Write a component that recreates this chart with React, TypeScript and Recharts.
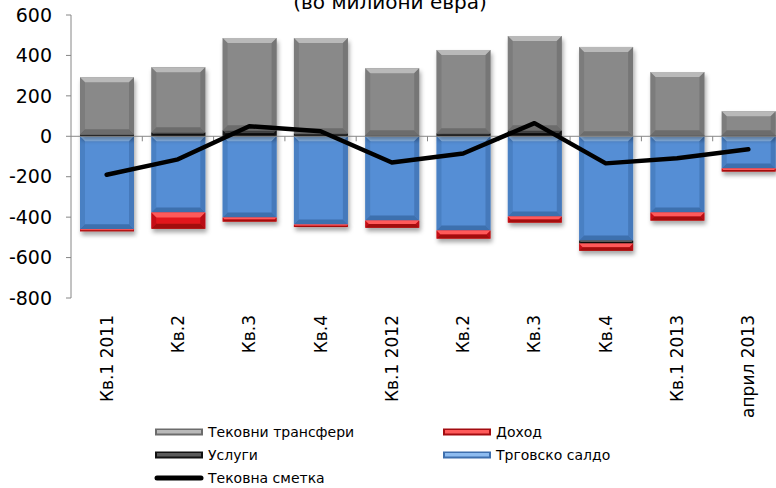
import React from 'react'
import { ComposedChart, Bar, Line, XAxis, YAxis, ReferenceLine } from 'recharts'

// Платен биланс по квартали, во милиони евра
const CATEGORIES = [
  'Кв.1 2011', 'Кв.2', 'Кв.3', 'Кв.4', 'Кв.1 2012',
  'Кв.2', 'Кв.3', 'Кв.4', 'Кв.1 2013', 'април 2013',
]
const TRADE = [-460, -377, -402, -437, -417, -466, -397, -516, -377, -159]
const SERVICES = [10, 20, 30, 15, 5, 15, 30, -15, 5, 5]
const INCOME = [-10, -80, -20, -12, -35, -40, -30, -35, -40, -15]
const TRANSFERS = [282, 322, 456, 471, 332, 412, 466, 442, 313, 119]
const CURRENT = [-190, -114, 50, 25, -130, -85, 65, -134, -109, -64]
const Y_TICKS = [-800, -600, -400, -200, 0, 200, 400, 600]

const FONT = '"DejaVu Sans", Verdana, sans-serif'

const data = CATEGORIES.map((name, i) => ({
  idx: i,
  name,
  trade: TRADE[i],
  services: SERVICES[i],
  income: INCOME[i],
  transfers: TRANSFERS[i],
  current: CURRENT[i],
}))

type Tone = { base: string; light: string; dark: string }

const GREY: Tone = { base: '#898989', light: '#b9b9b9', dark: '#6c6c6c' }
const BLUE: Tone = { base: '#558ed5', light: '#8ebcf0', dark: '#3e6fae' }
const RED: Tone = { base: '#e3161d', light: '#ff5a5a', dark: '#a30c10' }
const BLACK: Tone = { base: '#2a2a2a', light: '#5a5a5a', dark: '#111111' }

const SERIES = [
  { key: 'trade', label: 'Трговско салдо', tone: BLUE },
  { key: 'services', label: 'Услуги', tone: BLACK },
  { key: 'income', label: 'Доход', tone: RED },
  { key: 'transfers', label: 'Тековни трансфери', tone: GREY },
]

function bevelShape(tone: Tone) {
  return (props: any) => {
    const { x, y, width, height } = props
    if (!width || !height) return <g />
    const top = Math.min(y, y + height)
    const h = Math.abs(height)
    const w = width
    const b = Math.min(5, h / 2, w / 2)
    const bot = top + h
    const r = x + w
    return (
      <g filter="url(#barShadow)">
        <rect x={x} y={top} width={w} height={h} fill={tone.base} />
        <polygon points={`${x},${top} ${r},${top} ${r - b},${top + b} ${x + b},${top + b}`} fill={tone.light} />
        <polygon points={`${x},${bot} ${r},${bot} ${r - b},${bot - b} ${x + b},${bot - b}`} fill={tone.dark} />
        <polygon points={`${x},${top} ${x + b},${top + b} ${x + b},${bot - b} ${x},${bot}`} fill={tone.dark} opacity={0.45} />
        <polygon points={`${r},${top} ${r - b},${top + b} ${r - b},${bot - b} ${r},${bot}`} fill={tone.dark} opacity={0.65} />
      </g>
    )
  }
}

function XTick(props: any) {
  const { x, y, payload } = props
  const ty = y + 9
  return (
    <text
      x={x}
      y={ty}
      transform={`rotate(-90 ${x} ${ty})`}
      textAnchor="end"
      dominantBaseline="central"
      fontSize={17}
      fontFamily={FONT}
      fill="#000"
    >
      {CATEGORIES[payload.value]}
    </text>
  )
}

// tick marks along the zero line, between categories
function ZeroTicks(props: any) {
  const vb = props.viewBox
  if (!vb) return null
  const n = CATEGORIES.length
  return (
    <g>
      {Array.from({ length: n }).map((_, i) => (
        <line
          key={i}
          x1={vb.x + ((i + 1) * vb.width) / n}
          x2={vb.x + ((i + 1) * vb.width) / n}
          y1={vb.y}
          y2={vb.y + 5}
          stroke="#868686"
          strokeWidth={1}
        />
      ))}
    </g>
  )
}

function Swatch({ tone, line }: { tone?: Tone; line?: boolean }) {
  if (line) {
    return (
      <svg width={50} height={10} style={{ display: 'block' }}>
        <line x1={3} y1={5} x2={47} y2={5} stroke="#000" strokeWidth={5} strokeLinecap="round" />
      </svg>
    )
  }
  const t = tone as Tone
  return (
    <svg width={50} height={10} style={{ display: 'block' }}>
      <rect x={1} y={1.5} width={48} height={7} fill={t.dark} />
      <rect x={3} y={3} width={44} height={3.5} fill={t.light} />
    </svg>
  )
}

const LEGEND = [
  { label: 'Тековни трансфери', tone: GREY, col: 0, row: 0 },
  { label: 'Доход', tone: RED, col: 1, row: 0 },
  { label: 'Услуги', tone: BLACK, col: 0, row: 1 },
  { label: 'Трговско салдо', tone: BLUE, col: 1, row: 1 },
  { label: 'Тековна сметка', line: true, col: 0, row: 2 },
]

export default function App() {
  return (
    <div
      style={{
        position: 'absolute',
        left: 0,
        top: 0,
        width: 776,
        height: 488,
        overflow: 'hidden',
        background: '#fff',
        fontFamily: FONT,
      }}
    >
      <ComposedChart
        width={790}
        height={488}
        data={data}
        stackOffset="sign"
        barSize={54}
        margin={{ top: 15, right: 6, bottom: 0, left: 0 }}
      >
        <defs>
          <filter id="barShadow" filterUnits="userSpaceOnUse" x={0} y={0} width={800} height={500}>
            <feDropShadow dx={1.5} dy={3.5} stdDeviation={2.2} floodColor="#000" floodOpacity={0.35} />
          </filter>
        </defs>
        <XAxis
          dataKey="idx"
          type="category"
          axisLine={false}
          tickLine={false}
          height={190}
          interval={0}
          tick={<XTick />}
        />
        <YAxis
          domain={[-800, 600]}
          ticks={Y_TICKS}
          width={71}
          axisLine={{ stroke: '#868686' }}
          tickLine={{ stroke: '#868686' }}
          tickSize={5}
          tickMargin={14}
          tick={{ fontSize: 19, fill: '#000', fontFamily: FONT }}
        />
        <ReferenceLine y={0} stroke="#868686" strokeWidth={1} label={<ZeroTicks />} />
        {SERIES.map((s) => (
          <Bar
            key={s.key}
            dataKey={s.key}
            name={s.label}
            stackId="bop"
            fill={s.tone.base}
            shape={bevelShape(s.tone)}
            isAnimationActive={false}
          />
        ))}
        <Line
          dataKey="current"
          name="Тековна сметка"
          type="linear"
          stroke="#000"
          strokeWidth={4.5}
          strokeLinejoin="round"
          strokeLinecap="round"
          dot={false}
          activeDot={false}
          isAnimationActive={false}
        />
      </ComposedChart>

      <svg width={776} height={30} style={{ position: 'absolute', left: 0, top: 0 }}>
        <text x={390} y={9} textAnchor="middle" fontSize={20} fontFamily={FONT} fill="#000">
          (во милиони евра)
        </text>
      </svg>

      {LEGEND.map((item) => (
        <div
          key={item.label}
          style={{
            position: 'absolute',
            left: 154 + item.col * 288,
            top: 423 + item.row * 23,
            display: 'flex',
            alignItems: 'center',
            height: 18,
            fontSize: 14,
            color: '#000',
            whiteSpace: 'nowrap',
          }}
        >
          <Swatch tone={item.tone} line={item.line} />
          <span style={{ marginLeft: 4 }}>{item.label}</span>
        </div>
      ))}
    </div>
  )
}
